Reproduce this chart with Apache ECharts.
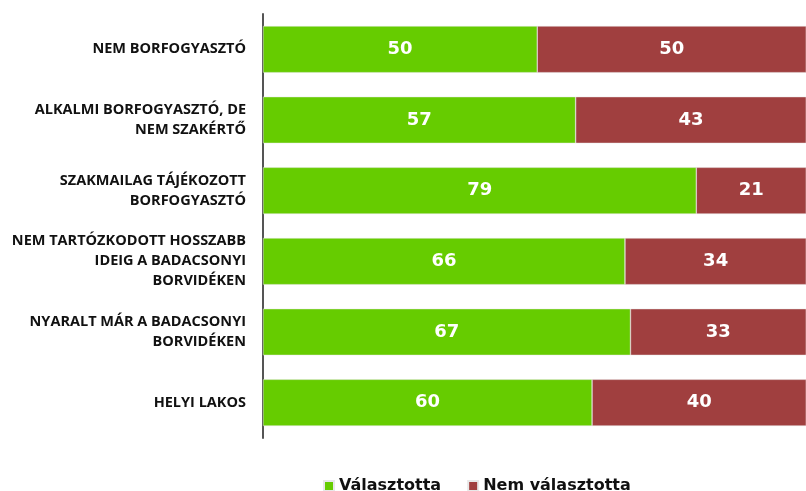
<!DOCTYPE html>
<html>
<head>
<meta charset="utf-8">
<script src="https://cdn.jsdelivr.net/npm/echarts@6/dist/echarts.min.js"></script>
<style>
    html, body { margin: 0; padding: 0; background: #fff; }
    #main { width: 806px; height: 491px; }
</style>
</head>
<body>
<div id="main"></div>
<script>
var categories = [
    'NEM BORFOGYASZTÓ',
    'ALKALMI BORFOGYASZTÓ, DE\nNEM SZAKÉRTŐ',
    'SZAKMAILAG TÁJÉKOZOTT\nBORFOGYASZTÓ',
    'NEM TARTÓZKODOTT HOSSZABB\nIDEIG A BADACSONYI\nBORVIDÉKEN',
    'NYARALT MÁR A BADACSONYI\nBORVIDÉKEN',
    'HELYI LAKOS'
];
var valasztotta = [50, 57, 79, 66, 67, 60];
var nemValasztotta = [50, 43, 21, 34, 33, 40];

var myChart = echarts.init(document.getElementById('main'));

var barLabel = {
    show: true,
    color: '#fff',
    fontFamily: 'DejaVu Sans',
    fontWeight: 'bold',
    fontSize: 18
};

var option = {
    animation: false,
    grid: { left: 263, right: 0, top: 14, bottom: 53, containLabel: false },
    legend: {
        left: 318,
        top: 473,
        itemWidth: 10,
        itemHeight: 10,
        itemGap: 26,
        icon: 'rect',
        textStyle: { fontFamily: 'DejaVu Sans', fontWeight: 'bold', fontSize: 16, color: '#111' },
        data: ['Választotta', 'Nem választotta']
    },
    xAxis: {
        type: 'value',
        min: 0,
        max: 99, // the original chart is cropped a little on the right
        show: false
    },
    yAxis: {
        type: 'category',
        inverse: true,
        data: categories,
        axisLine: { show: true, lineStyle: { color: '#555', width: 2 } },
        axisTick: { show: false },
        axisLabel: {
            margin: 17,
            align: 'right',
            color: '#111',
            fontFamily: 'Open Sans',
            fontWeight: 'bold',
            fontSize: 14.5,
            lineHeight: 20
        }
    },
    series: [
        {
            name: 'Választotta',
            type: 'bar',
            stack: 'total',
            barWidth: '66%',
            data: valasztotta,
            itemStyle: { color: '#66CC00', borderColor: '#e8e8e8', borderWidth: 0.5 },
            label: barLabel
        },
        {
            name: 'Nem választotta',
            type: 'bar',
            stack: 'total',
            data: nemValasztotta,
            itemStyle: { color: '#A03F3F', borderColor: '#e8e8e8', borderWidth: 0.5 },
            label: barLabel
        }
    ]
};

myChart.setOption(option);
</script>
</body>
</html>
